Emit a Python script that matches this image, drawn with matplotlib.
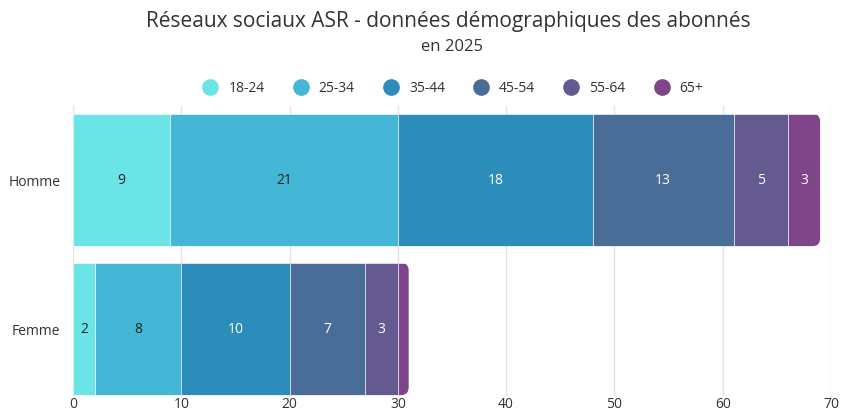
import matplotlib
matplotlib.use("Agg")
import matplotlib.pyplot as plt
from matplotlib.patches import FancyBboxPatch
from matplotlib.lines import Line2D

categories = ["Homme", "Femme"]
age_groups = ["18-24", "25-34", "35-44", "45-54", "55-64", "65+"]
homme = [9, 21, 18, 13, 5, 3]
femme = [2, 8, 10, 7, 3, 1]
colors = ["#6be4e8", "#43b7d5", "#2c8cba", "#4a6d98", "#645a8f", "#7e4589"]
label_colors = ["#222222", "#222222", "white", "white", "white", "white"]
xticks = [0, 10, 20, 30, 40, 50, 60, 70]

plt.rcParams['font.family'] = ['Open Sans', 'DejaVu Sans']

W, H = 842, 414
fig = plt.figure(figsize=(W / 100, H / 100), dpi=100)
bottom_px = 397
top_px = 106.5
left_px, right_px = 73, 831
ax = fig.add_axes([left_px / W, 1 - bottom_px / H, (right_px - left_px) / W, (bottom_px - top_px) / H])

ax.set_xlim(0, 70)
ax.set_ylim(-0.45, 1.5)
ypos = [1, 0]
bar_h = 0.89
series = [homme, femme]

# pixel scale for rounding
x_px_per_unit = (right_px - left_px) / 70
y_px_per_unit = (bottom_px - top_px) / 1.95
r_px = 8
r_x = r_px / x_px_per_unit
aspect = (r_px / y_px_per_unit) / r_x

for yi, vals in zip(ypos, series):
    total = sum(vals)
    clip = FancyBboxPatch((-10, yi - bar_h / 2), total + 10, bar_h,
                          boxstyle=f"round,pad=0,rounding_size={r_x}",
                          mutation_aspect=aspect, transform=ax.transData,
                          facecolor="none", edgecolor="none")
    ax.add_patch(clip)
    left = 0
    for v, c, lc in zip(vals, colors, label_colors):
        bars = ax.barh(yi, v, left=left, height=bar_h, color=c,
                       edgecolor="#ffffff", linewidth=0.4, zorder=2)
        for b in bars:
            b.set_clip_path(clip)
        if v >= 2:
            ax.text(left + v / 2, yi, str(v), ha="center", va="center",
                    fontsize=10, color=lc, zorder=3)
        left += v

ax.set_yticks(ypos)
ax.set_yticklabels(categories, fontsize=10, color="#333333")
ax.set_xticks(xticks)
ax.set_xticklabels([str(t) for t in xticks], fontsize=10, color="#333333")
ax.tick_params(axis="x", length=0, pad=0)
ax.tick_params(axis="y", length=0, pad=9)
ax.grid(axis="x", color="#e3e3e3", linewidth=1, zorder=0)
ax.set_axisbelow(True)
for s in ax.spines.values():
    s.set_visible(False)

fig.text(448 / W, 1 - 22 / H, "Réseaux sociaux ASR - données démographiques des abonnés",
         ha="center", va="center", fontsize=15, color="#333333")
fig.text(452 / W, 1 - 47 / H, "en 2025", ha="center", va="center",
         fontsize=12, color="#333333")

handles = [Line2D([0], [0], marker="o", linestyle="none", markersize=11,
                  markerfacecolor=c, markeredgecolor=c) for c in colors]
fig.legend(handles, age_groups, loc="center", bbox_to_anchor=(450 / W, 1 - 89 / H),
           ncol=6, frameon=False, fontsize=10, handletextpad=0.3,
           columnspacing=1.6, labelcolor="#333333")

fig.savefig("out.png", dpi=100)
